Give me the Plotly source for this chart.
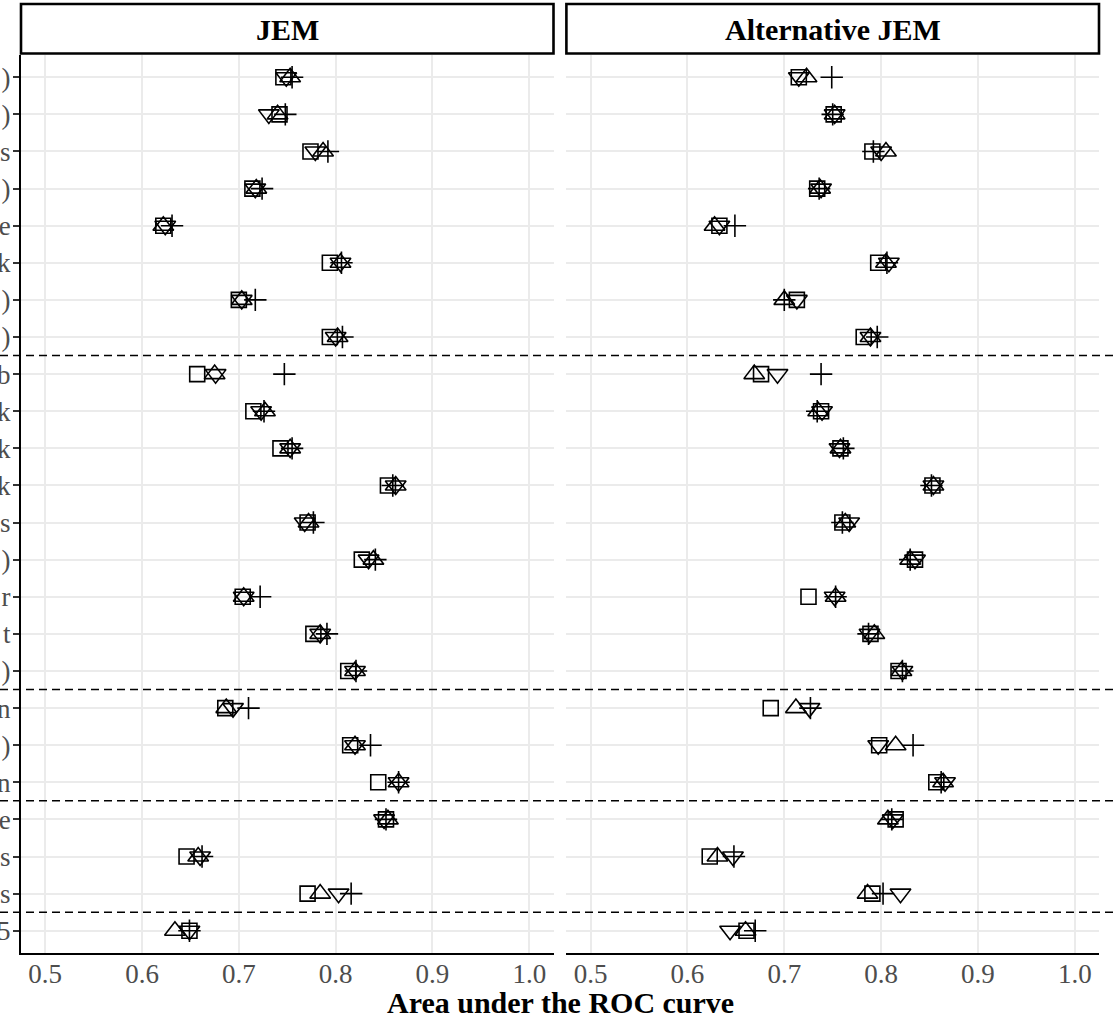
import plotly.graph_objects as go

# ---------------- data ----------------
rows = list(range(1, 25))
row_labels = [")", ")", "s", ")", "e", "k", ")", ")",
              "b", "k", "k", "k", "s", ")", "r", "t", ")",
              "n", ")", "n",
              "e", "s", "s",
              "5"]
group_breaks = [8.5, 17.5, 20.5, 23.5]
panels = ["JEM", "Alternative JEM"]
x_tickvals = [0.5, 0.6, 0.7, 0.8, 0.9, 1.0]
x_ticktext = ["0.5", "0.6", "0.7", "0.8", "0.9", "1.0"]
x_title = "Area under the ROC curve"

# JEM panel
jem_square = [0.746, 0.742, 0.774, 0.714, 0.622, 0.794, 0.700, 0.794,
              0.657, 0.715, 0.743, 0.854, 0.771, 0.827, 0.704, 0.777, 0.813,
              0.686, 0.815, 0.844,
              0.852, 0.646, 0.771,
              0.649]
jem_tri_up = [0.753, 0.740, 0.787, 0.718, 0.622, 0.805, 0.703, 0.802,
              0.675, 0.727, 0.753, 0.862, 0.772, 0.839, 0.705, 0.784, 0.820,
              0.687, 0.820, 0.865,
              0.854, 0.658, 0.784,
              0.634]
jem_tri_down = [0.749, 0.731, 0.779, 0.717, 0.624, 0.805, 0.703, 0.800,
                0.676, 0.723, 0.753, 0.862, 0.768, 0.834, 0.705, 0.784, 0.820,
                0.694, 0.820, 0.865,
                0.850, 0.660, 0.803,
                0.649]
jem_plus = [0.755, 0.748, 0.792, 0.724, 0.631, 0.806, 0.717, 0.807,
            0.747, 0.726, 0.755, 0.859, 0.777, 0.841, 0.722, 0.791, 0.821,
            0.710, 0.836, 0.865,
            0.852, 0.662, 0.816,
            0.649]

# Alternative JEM panel
alt_square = [0.715, 0.751, 0.791, 0.734, 0.633, 0.797, 0.713, 0.782,
              0.676, 0.738, 0.758, 0.853, 0.760, 0.835, 0.725, 0.789, 0.818,
              0.686, 0.798, 0.857,
              0.815, 0.623, 0.791,
              0.661]
alt_tri_up = [0.723, 0.752, 0.805, 0.737, 0.628, 0.805, 0.700, 0.789,
              0.669, 0.735, 0.758, 0.854, 0.763, 0.830, 0.753, 0.793, 0.821,
              0.712, 0.815, 0.864,
              0.807, 0.631, 0.786,
              0.660]
alt_tri_down = [0.715, 0.752, 0.800, 0.738, 0.633, 0.808, 0.713, 0.789,
                0.693, 0.739, 0.757, 0.854, 0.767, 0.835, 0.752, 0.788, 0.822,
                0.726, 0.797, 0.866,
                0.812, 0.647, 0.820,
                0.644]
alt_plus = [0.749, 0.750, 0.792, 0.736, 0.649, 0.806, 0.700, 0.796,
            0.738, 0.734, 0.761, 0.852, 0.760, 0.830, 0.753, 0.787, 0.822,
            0.727, 0.833, 0.862,
            0.811, 0.648, 0.802,
            0.670]

# ---------------- figure ----------------
W, H = 1114, 1024
ML, MR, MT, MB = 21, 15, 55, 71
PW = W - ML - MR
PH = H - MT - MB

FONT = "Liberation Serif, Times New Roman, serif"
LW = 1.6

fig = go.Figure()

series = [
    ("square-open", 15, [jem_square, alt_square]),
    ("triangle-up-open", 18, [jem_tri_up, alt_tri_up]),
    ("triangle-down-open", 18, [jem_tri_down, alt_tri_down]),
    ("cross-thin-open", 16, [jem_plus, alt_plus]),
]

for sym, size, vals in series:
    for p, v in enumerate(vals):
        fig.add_trace(go.Scatter(
            x=v, y=rows, mode="markers",
            xaxis="x" if p == 0 else "x2",
            yaxis="y" if p == 0 else "y2",
            marker=dict(symbol=sym, size=size, color="black",
                        line=dict(color="black", width=LW)),
            showlegend=False, hoverinfo="x+y",
        ))

grid_c = "#EBEBEB"
xcommon = dict(range=[0.475, 1.025], tickvals=x_tickvals, ticktext=x_ticktext,
               showgrid=True, gridcolor=grid_c, gridwidth=1.8, zeroline=False,
               showline=True, linecolor="black", linewidth=2, ticks="",
               ticklabelstandoff=-4,
               tickfont=dict(family=FONT, size=27, color="#4D4D4D"))
left_dom = [0, 532.5 / PW]
right_dom = [(566.4 - ML) / PW, 1]

fig.update_layout(
    width=W, height=H,
    margin=dict(l=ML, r=MR, t=MT, b=MB),
    paper_bgcolor="white", plot_bgcolor="white",
    font=dict(family=FONT),
    xaxis=dict(domain=left_dom, anchor="y", **xcommon),
    xaxis2=dict(domain=right_dom, anchor="y2", **xcommon),
    yaxis=dict(range=[24.6, 0.4], tickvals=rows, ticktext=row_labels,
               showgrid=True, gridcolor=grid_c, gridwidth=1.8, zeroline=False,
               showline=True, linecolor="black", linewidth=2,
               ticks="outside", ticklen=6, tickwidth=1.5, tickcolor="#333333",
               ticklabelstandoff=-3,
               tickfont=dict(family=FONT, size=27, color="#4D4D4D"),
               automargin=False, anchor="x"),
    yaxis2=dict(range=[24.6, 0.4], tickvals=rows, showticklabels=False,
                showgrid=True, gridcolor=grid_c, gridwidth=1.8, zeroline=False,
                showline=False, ticks="", anchor="x2"),
)

shapes = []
annotations = []
# strips
for i, name in enumerate(panels):
    xr = "x domain" if i == 0 else "x2 domain"
    shapes.append(dict(type="rect", xref=xr, yref="paper",
                       x0=0, x1=1, y0=1 + 1.5 / PH, y1=1 + 51 / PH,
                       line=dict(color="black", width=2.6), fillcolor="white"))
    annotations.append(dict(xref=xr, yref="paper", x=0.5, y=1 + 26 / PH,
                            text="<b>%s</b>" % name, showarrow=False,
                            xanchor="center", yanchor="middle",
                            font=dict(family=FONT, size=30, color="black")))
# dashed group separators across full width
for b in group_breaks:
    shapes.append(dict(type="line", xref="paper", yref="y",
                       x0=-ML / PW, x1=(W - ML) / PW, y0=b, y1=b,
                       line=dict(color="black", width=1.5, dash="8px,5px")))
# x-axis title
annotations.append(dict(xref="paper", yref="paper", x=0.5, y=-50 / PH,
                        text="<b>%s</b>" % x_title, showarrow=False,
                        xanchor="center", yanchor="middle",
                        font=dict(family=FONT, size=30, color="black")))

fig.update_layout(shapes=shapes, annotations=annotations)

fig.write_html("out.html", config={"displayModeBar": False},
               post_script="document.body.style.margin='0px';")
